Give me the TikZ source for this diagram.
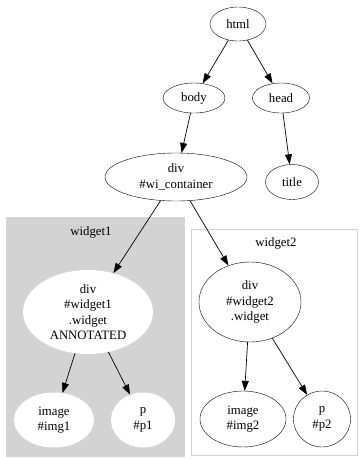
\documentclass[tikz,border=0pt]{standalone}
\usepackage{fontspec}
\setmainfont{Liberation Serif}
\usetikzlibrary{shapes.geometric,arrows.meta}
\definecolor{clustergray}{HTML}{D3D3D3}

\begin{document}
\begin{tikzpicture}[x=1pt,y=-1pt,
    every node/.style={font=\fontsize{12.8}{15.5}\selectfont, align=center},
    elem/.style={ellipse, draw, inner sep=0pt},
    inner/.style={ellipse, fill=white, inner sep=0pt},
    edge/.style={-{Triangle[length=10pt,width=7pt]}, line width=0.7pt}]
    \useasboundingbox (0,0) rectangle (360,459);
    % top of the tree
    \node[elem, minimum width=56, minimum height=34] (html) at (238,24) {html};
    \node[elem, minimum width=62, minimum height=30] (body) at (194,98) {body};
    \node[elem, minimum width=57, minimum height=30] (head) at (281,98) {head};
    \node[elem, minimum width=142, minimum height=48] (wic) at (176,177) {div\\\#wi\_container};
    \node[elem, minimum width=53, minimum height=35] (title) at (292,182) {title};
    \begin{scope}
	\draw[clustergray, fill=clustergray] (6,217) rectangle (184,456);
	\node (w1label) at (91,232) {widget1};
	\node[inner, minimum width=130, minimum height=84] (w1) at (88,312) {div\\\#widget1\\.widget\\ANNOTATED};
	\node[inner, minimum width=80, minimum height=55] (img1) at (54,420) {image\\\#img1};
	\node[inner, minimum width=64, minimum height=55] (p1) at (143,420) {p\\\#p1};
    \end{scope}
    \begin{scope}
	\draw[clustergray, line width=0.8pt] (191,229) rectangle (357,455);
	\node (w2label) at (276,243) {widget2};
	\node[elem, minimum width=102, minimum height=80] (w2) at (250,302) {div\\\#widget2\\.widget};
	\node[elem, minimum width=86, minimum height=56] (img2) at (243,419) {image\\\#img2};
	\node[elem, minimum width=57, minimum height=56] (p2) at (322,419) {p\\\#p2};
    \end{scope}
    % edges
    \draw[edge] (html) -- (body);
    \draw[edge] (html) -- (head);
    \draw[edge] (body) -- (wic);
    \draw[edge] (head) -- (title);
    \draw[edge] (wic) -- (w1);
    \draw[edge] (wic) -- (w2);
    \draw[edge] (w1) -- (img1);
    \draw[edge] (w1) -- (p1);
    \draw[edge] (w2) -- (img2);
    \draw[edge] (w2) -- (p2);
\end{tikzpicture}
\end{document}
